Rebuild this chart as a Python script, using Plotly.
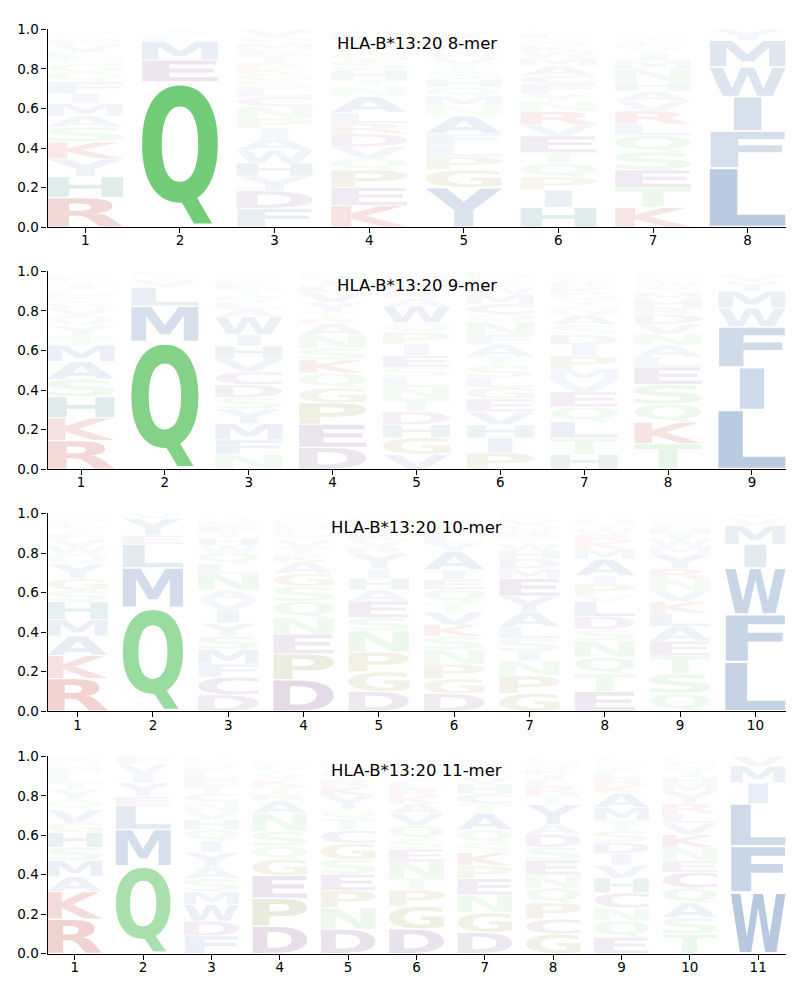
import glob
import os
import struct
import plotly.graph_objects as go

# ---------------- data ----------------
TITLE_PREFIX = "HLA-B*13:20"
LENGTHS = [8, 9, 10, 11]

# letters per position, listed bottom -> top, with their heights (probabilities)
LETTERS_8 = ["RHYKSAMIFQGNLVEDPWC", "QEMLVI", "FDYHWAIPNCLSGKRTEMQV",
             "KEPQVDRLANTHSGYIMFW", "YGPLFANMQHSTVWKEDIRC", "HIPQTEVRNYFCAMWKSLGD",
             "KTESQLRVAHNMIYFGDPWC", "LFIWMY"]
HEIGHTS_8 = [
    [.15, .105, .09, .086, .075, .055, .063, .05, .06, .05, .04, .03, .03, .04, .02, .015, .015, .015, .01],
    [.735, .11, .095, .025, .02, .015],
    [.095, .088, .075, .066, .065, .06, .05, .05, .06, .05, .04, .04, .035, .03, .025, .04, .025, .035, .03, .04],
    [.11, .09, .09, .058, .058, .066, .053, .055, .08, .05, .035, .05, .045, .04, .035, .03, .025, .02, .01],
    [.2, .09, .066, .058, .058, .09, .05, .05, .045, .04, .04, .035, .035, .03, .025, .025, .02, .02, .013, .01],
    [.1, .088, .066, .066, .058, .083, .058, .066, .05, .04, .05, .04, .05, .04, .035, .03, .03, .025, .015, .01],
    [.1, .1, .09, .09, .083, .058, .066, .05, .05, .05, .066, .04, .035, .03, .025, .02, .015, .012, .01, .01],
    [.30, .185, .175, .15, .135, .055],
]

LETTERS_9 = ["RKHSAMTYQVGFLINEDPWC", "QMLVIE", "NFMYSDCVHIWALQTEKGPR",
             "DEPGQKSNARTYVLIMFH", "VGHDTNLSEIPQWAKRYMFC", "PIHVEGLSTAFNQCMWKRDY",
             "HTLQEVMPIDSANYGKRWFC", "TKQSELANVDRHMYWFGP", "LIFWMYVA"]
HEIGHTS_9 = [
    [.146, .116, .108, .09, .09, .083, .05, .05, .05, .04, .035, .03, .03, .025, .02, .02, .01, .007, .005, .005],
    [.645, .18, .095, .04, .02, .02],
    [.075, .075, .083, .075, .058, .066, .066, .066, .066, .058, .09, .04, .035, .035, .03, .03, .02, .02, .012, .01],
    [.11, .116, .108, .075, .075, .066, .058, .066, .058, .025, .033, .05, .05, .035, .025, .02, .015, .01],
    [.075, .083, .066, .066, .066, .058, .05, .05, .058, .058, .058, .05, .083, .04, .03, .025, .03, .025, .015, .01],
    [.083, .075, .066, .066, .066, .058, .05, .058, .05, .058, .05, .066, .04, .05, .05, .035, .025, .02, .02, .015],
    [.075, .083, .083, .075, .075, .058, .058, .066, .058, .05, .05, .05, .04, .035, .035, .03, .025, .02, .02, .015],
    [.13, .108, .09, .1, .09, .05, .058, .058, .05, .05, .033, .04, .035, .03, .025, .02, .02, .013],
    [.30, .215, .205, .095, .085, .05, .035, .015],
]

LETTERS_10 = ["RKAMHSGYQWVFTLNEI", "QMLEYV", "DCFMSYIVANLQWHTEGKPR",
              "DPENQSGAKTVYLHRMIFW", "DGPNSEAHIYRVKTQLMFW", "DGPNSKVTQEIAYLMHRFWC",
              "GPNISLAYEMDHWTRQVKFC", "ETQNSDLVPIAMKRWYHGFC", "QSTEALKVNRYMWIHFGDPC",
              "LFWIMVY"]
HEIGHTS_10 = [
    [.166, .116, .1, .083, .09, .058, .058, .075, .05, .04, .035, .03, .03, .025, .02, .015, .01],
    [.525, .2, .12, .045, .085, .025],
    [.083, .09, .066, .075, .066, .066, .066, .05, .05, .083, .05, .058, .035, .04, .035, .03, .025, .015, .01, .007],
    [.16, .13, .1, .083, .083, .075, .066, .058, .035, .04, .035, .03, .025, .02, .015, .012, .01, .008, .015],
    [.1, .1, .1, .108, .066, .083, .058, .058, .05, .075, .033, .035, .03, .03, .025, .02, .015, .01, .005],
    [.09, .075, .075, .075, .066, .058, .066, .05, .066, .05, .05, .09, .045, .04, .03, .025, .02, .015, .01, .01],
    [.09, .09, .075, .05, .066, .058, .075, .08, .09, .05, .05, .04, .035, .035, .03, .03, .025, .015, .01, .01],
    [.1, .09, .083, .083, .058, .066, .075, .033, .058, .04, .083, .05, .04, .035, .03, .025, .02, .015, .01, .006],
    [.09, .1, .09, .075, .075, .066, .058, .058, .058, .05, .075, .04, .035, .03, .025, .02, .015, .01, .01, .02],
    [.25, .24, .235, .12, .095, .035, .025],
]

LETTERS_11 = ["RKAMSHGVQYTLFNWEI", "QMLEYIVF", "FDWMSAYIQHVNCTELKGPR",
              "DPEGQSNARTKVYLHMIF", "DNPESGCTQYKRVALHMIF", "DGPTNESQVAKRLYHIMFWC",
              "DGNEPKSQATCHVYLRMIF", "GCPQNESDAYTRLIKVMHFW", "EQNCHVIDSTMAKRLYGPFW",
              "TSAQCENKVLRYMHIWFGDP", "WFLIMV"]
HEIGHTS_11 = [
    [.175, .14, .075, .083, .066, .075, .05, .066, .05, .05, .04, .035, .03, .025, .02, .01, .01],
    [.445, .185, .12, .045, .07, .045, .05, .04],
    [.09, .075, .083, .066, .066, .058, .075, .058, .058, .05, .04, .05, .04, .04, .035, .035, .025, .025, .02, .01],
    [.14, .14, .116, .083, .066, .075, .09, .066, .033, .04, .035, .03, .025, .02, .015, .01, .008, .008],
    [.125, .108, .09, .083, .075, .083, .066, .058, .05, .07, .045, .035, .03, .03, .02, .015, .01, .008, .007],
    [.125, .116, .083, .058, .083, .066, .05, .07, .06, .05, .04, .035, .035, .03, .025, .02, .02, .015, .01, .01],
    [.108, .1, .09, .083, .066, .066, .05, .066, .083, .05, .05, .05, .035, .03, .025, .02, .015, .01, .005],
    [.1, .075, .083, .075, .066, .075, .066, .066, .05, .1, .05, .04, .035, .03, .025, .025, .015, .01, .01, .005],
    [.083, .083, .066, .075, .075, .066, .058, .058, .058, .05, .066, .075, .04, .035, .03, .025, .02, .015, .01, .01],
    [.1, .083, .075, .075, .08, .058, .066, .066, .058, .05, .05, .06, .04, .035, .03, .025, .02, .015, .01, .005],
    [.31, .235, .215, .105, .085, .05],
]

PANELS = [(LETTERS_8, HEIGHTS_8), (LETTERS_9, HEIGHTS_9),
          (LETTERS_10, HEIGHTS_10), (LETTERS_11, HEIGHTS_11)]

# colour scheme (base colours, opacity follows letter probability)
GROUP_COLORS = {
    "AVLIMFW": (87, 126, 179),
    "Y": (120, 148, 190),
    "H": (40, 125, 115),
    "QNST": (114, 204, 120),
    "KR": (193, 68, 59),
    "DEC": (132, 87, 150),
    "GP": (150, 150, 72),
}
ALPHA_REF = 0.735

# ---------------- glyph outlines from the installed font ----------------
class TTF:
    def __init__(self, path):
        d = open(path, "rb").read()
        self.d = d
        n = struct.unpack(">H", d[4:6])[0]
        self.t = {}
        for i in range(n):
            o = 12 + 16 * i
            tag = d[o:o + 4].decode("latin1")
            _, toff, tlen = struct.unpack(">III", d[o + 4:o + 16])
            self.t[tag] = toff
        h = self.t["head"]
        self.locfmt = struct.unpack(">h", d[h + 50:h + 52])[0]
        m = self.t["maxp"]
        self.ng = struct.unpack(">H", d[m + 4:m + 6])[0]
        lo = self.t["loca"]
        if self.locfmt == 0:
            self.loca = [struct.unpack(">H", d[lo + 2 * i:lo + 2 * i + 2])[0] * 2 for i in range(self.ng + 1)]
        else:
            self.loca = [struct.unpack(">I", d[lo + 4 * i:lo + 4 * i + 4])[0] for i in range(self.ng + 1)]
        self._cmap()

    def _cmap(self):
        d = self.d
        b = self.t["cmap"]
        n = struct.unpack(">H", d[b + 2:b + 4])[0]
        sub = None
        for i in range(n):
            pid, eid, off = struct.unpack(">HHI", d[b + 4 + 8 * i:b + 12 + 8 * i])
            fmt = struct.unpack(">H", d[b + off:b + off + 2])[0]
            if fmt == 4 and ((pid == 3 and eid == 1) or pid == 0):
                sub = b + off
                break
        segx2 = struct.unpack(">H", d[sub + 6:sub + 8])[0]
        segs = segx2 // 2
        self.ends = struct.unpack(">%dH" % segs, d[sub + 14:sub + 14 + segx2])
        so = sub + 16 + segx2
        self.starts = struct.unpack(">%dH" % segs, d[so:so + segx2])
        self.deltas = struct.unpack(">%dh" % segs, d[so + segx2:so + 2 * segx2])
        self.ro_off = so + 2 * segx2
        self.ros = struct.unpack(">%dH" % segs, d[self.ro_off:self.ro_off + segx2])

    def gid(self, ch):
        c = ord(ch)
        for i in range(len(self.ends)):
            if self.starts[i] <= c <= self.ends[i]:
                if self.ros[i] == 0:
                    return (c + self.deltas[i]) & 0xFFFF
                a = self.ro_off + 2 * i + self.ros[i] + 2 * (c - self.starts[i])
                g = struct.unpack(">H", self.d[a:a + 2])[0]
                return (g + self.deltas[i]) & 0xFFFF if g else 0
        return 0

    def contours(self, g):
        d = self.d
        if self.loca[g + 1] == self.loca[g]:
            return []
        o = self.t["glyf"] + self.loca[g]
        nc = struct.unpack(">h", d[o:o + 2])[0]
        if nc < 0:
            return self._composite(o)
        p = o + 10
        ends = struct.unpack(">%dH" % nc, d[p:p + 2 * nc])
        p += 2 * nc
        il = struct.unpack(">H", d[p:p + 2])[0]
        p += 2 + il
        npts = ends[-1] + 1
        fl = []
        while len(fl) < npts:
            f = d[p]; p += 1
            fl.append(f)
            if f & 8:
                r = d[p]; p += 1
                fl.extend([f] * r)
        fl = fl[:npts]
        xs, x = [], 0
        for f in fl:
            if f & 2:
                v = d[p]; p += 1
                x += v if f & 16 else -v
            elif not f & 16:
                x += struct.unpack(">h", d[p:p + 2])[0]; p += 2
            xs.append(x)
        ys, y = [], 0
        for f in fl:
            if f & 4:
                v = d[p]; p += 1
                y += v if f & 32 else -v
            elif not f & 32:
                y += struct.unpack(">h", d[p:p + 2])[0]; p += 2
            ys.append(y)
        res, s = [], 0
        for e in ends:
            res.append([(xs[i], ys[i], bool(fl[i] & 1)) for i in range(s, e + 1)])
            s = e + 1
        return res

    def _composite(self, o):
        d = self.d
        p = o + 10
        res = []
        while True:
            flags, gi = struct.unpack(">HH", d[p:p + 4]); p += 4
            if flags & 1:
                a1, a2 = struct.unpack(">hh", d[p:p + 4]); p += 4
            else:
                a1, a2 = struct.unpack(">bb", d[p:p + 2]); p += 2
            sx = sy = 1.0
            if flags & 8:
                sx = sy = struct.unpack(">h", d[p:p + 2])[0] / 16384.0; p += 2
            elif flags & 0x40:
                sx, sy = [v / 16384.0 for v in struct.unpack(">hh", d[p:p + 4])]; p += 4
            elif flags & 0x80:
                v = [w / 16384.0 for w in struct.unpack(">hhhh", d[p:p + 8])]; p += 8
                sx, sy = v[0], v[3]
            for c in self.contours(gi):
                res.append([(x * sx + a1, y * sy + a2, on) for x, y, on in c])
            if not flags & 0x20:
                break
        return res


def find_font():
    pats = ["/usr/share/fonts/**/DejaVuSans-Bold.ttf", "/usr/local/share/fonts/**/DejaVuSans-Bold.ttf",
            os.path.expanduser("~/.fonts/**/DejaVuSans-Bold.ttf"), "/usr/share/fonts/**/LiberationSans-Bold.ttf",
            "/usr/share/fonts/**/*Bold*.ttf"]
    for pat in pats:
        hits = sorted(glob.glob(pat, recursive=True))
        if hits:
            return hits[0]
    return None


def glyph_segments(contours):
    """convert quadratic TrueType contours into command lists"""
    out = []
    for pts in contours:
        if not pts:
            continue
        st = next((i for i, q in enumerate(pts) if q[2]), None)
        if st is None:
            a, b = pts[0], pts[1]
            m = ((a[0] + b[0]) / 2.0, (a[1] + b[1]) / 2.0, True)
            pts = [m] + pts[1:] + pts[:1]
        else:
            pts = pts[st:] + pts[:st]
        cmds = [("M", pts[0][:2])]
        ctrl = None
        for q in pts[1:] + [pts[0]]:
            if q[2]:
                if ctrl is None:
                    cmds.append(("L", q[:2]))
                else:
                    cmds.append(("Q", ctrl, q[:2]))
                    ctrl = None
            else:
                if ctrl is None:
                    ctrl = q[:2]
                else:
                    mid = ((ctrl[0] + q[0]) / 2.0, (ctrl[1] + q[1]) / 2.0)
                    cmds.append(("Q", ctrl, mid))
                    ctrl = q[:2]
        cmds.append(("Z",))
        out.append(cmds)
    return out


GLYPHS = {}
font_path = find_font()
if font_path:
    try:
        ttf = TTF(font_path)
        for ch in "ACDEFGHIKLMNPQRSTVWY":
            segs = glyph_segments(ttf.contours(ttf.gid(ch)))
            xs = [p[0] for s in segs for c in s if c[0] != "Z" for p in c[1:]]
            ys = [p[1] for s in segs for c in s if c[0] != "Z" for p in c[1:]]
            GLYPHS[ch] = (segs, min(xs), min(ys), max(xs), max(ys))
    except Exception:
        GLYPHS = {}


def letter_color(ch, p):
    for grp, rgb in GROUP_COLORS.items():
        if ch in grp:
            a = max(0.0, min(1.0, p / ALPHA_REF))
            return "rgba(%d,%d,%d,%.3f)" % (rgb[0], rgb[1], rgb[2], a)
    return "rgba(128,128,128,0.2)"


WIDTH = 0.8
VPAD = 0.05


def letter_path(ch, pos, floor, ceil):
    h = ceil - floor
    bx0 = pos - WIDTH / 2.0
    by0 = floor + VPAD * h / 2.0
    bh = h * (1 - VPAD)
    if ch not in GLYPHS:
        return "M%.4f,%.4f L%.4f,%.4f L%.4f,%.4f L%.4f,%.4f Z" % (
            bx0, by0, bx0 + WIDTH, by0, bx0 + WIDTH, by0 + bh, bx0, by0 + bh)
    segs, xmin, ymin, xmax, ymax = GLYPHS[ch]
    e = GLYPHS.get("E")
    ew = (e[3] - e[1]) if e else (xmax - xmin)
    hs = min(WIDTH / (xmax - xmin), WIDTH / ew)
    shift = (WIDTH - hs * (xmax - xmin)) / 2.0
    vs = bh / (ymax - ymin)

    def tx(pt):
        return "%.4f,%.5f" % ((pt[0] - xmin) * hs + bx0 + shift, (pt[1] - ymin) * vs + by0)

    parts = []
    for cmds in segs:
        for c in cmds:
            if c[0] == "M":
                parts.append("M" + tx(c[1]))
            elif c[0] == "L":
                parts.append("L" + tx(c[1]))
            elif c[0] == "Q":
                parts.append("Q" + tx(c[1]) + " " + tx(c[2]))
            else:
                parts.append("Z")
    return " ".join(parts)


# ---------------- figure ----------------
fig = go.Figure()
Y_DOMAINS = [[0.7773, 0.9783], [0.5313, 0.7323], [0.2853, 0.4863], [0.039, 0.2395]]
X_DOMAIN = [47.5 / 800, 785.5 / 800]
TICK_FONT = dict(family="DejaVu Sans", size=13.5, color="black")

shapes = []
annotations = []
layout = {}
for i, (n, (letters, heights)) in enumerate(zip(LENGTHS, PANELS)):
    k = "" if i == 0 else str(i + 1)
    fig.add_trace(go.Scatter(x=[None], y=[None], xaxis="x" + k, yaxis="y" + k,
                             showlegend=False, hoverinfo="skip", mode="markers"))
    layout["xaxis" + k] = dict(domain=X_DOMAIN, range=[0.6, n + 0.4], anchor="y" + k,
                               tickvals=list(range(1, n + 1)), ticks="outside", ticklen=5,
                               tickwidth=1.1, tickcolor="black", showline=True, linecolor="black",
                               linewidth=1.1, showgrid=False, zeroline=False, tickfont=TICK_FONT,
                               ticklabelstandoff=-4)
    layout["yaxis" + k] = dict(domain=Y_DOMAINS[i], range=[0, 1], anchor="x" + k,
                               tickvals=[0, 0.2, 0.4, 0.6, 0.8, 1.0],
                               ticktext=["0.0", "0.2", "0.4", "0.6", "0.8", "1.0"],
                               ticks="outside", ticklen=5, tickwidth=1.1, tickcolor="black",
                               showline=True, linecolor="black", linewidth=1.1, showgrid=False,
                               zeroline=False, tickfont=TICK_FONT)
    for j, (lets, hts) in enumerate(zip(letters, heights)):
        pos = j + 1
        tot = float(sum(hts))
        floor = 0.0
        for ch, hv in zip(lets, hts):
            p = hv / tot
            ceil = floor + p
            shapes.append(dict(type="path", xref="x" + k, yref="y" + k,
                               path=letter_path(ch, pos, floor, ceil),
                               fillcolor=letter_color(ch, p), line=dict(width=0),
                               fillrule="nonzero", layer="above"))
            floor = ceil
    annotations.append(dict(text="%s %d-mer" % (TITLE_PREFIX, n), xref="x%s domain" % k,
                            yref="y%s domain" % k, x=0.5, y=0.927, xanchor="center",
                            yanchor="middle", showarrow=False,
                            font=dict(family="DejaVu Sans", size=16.5, color="black")))

fig.update_layout(**layout)
fig.update_layout(width=800, height=1000, margin=dict(l=0, r=0, t=0, b=0),
                  paper_bgcolor="white", plot_bgcolor="white", shapes=shapes,
                  annotations=annotations, showlegend=False)
fig.write_html("out.html")
